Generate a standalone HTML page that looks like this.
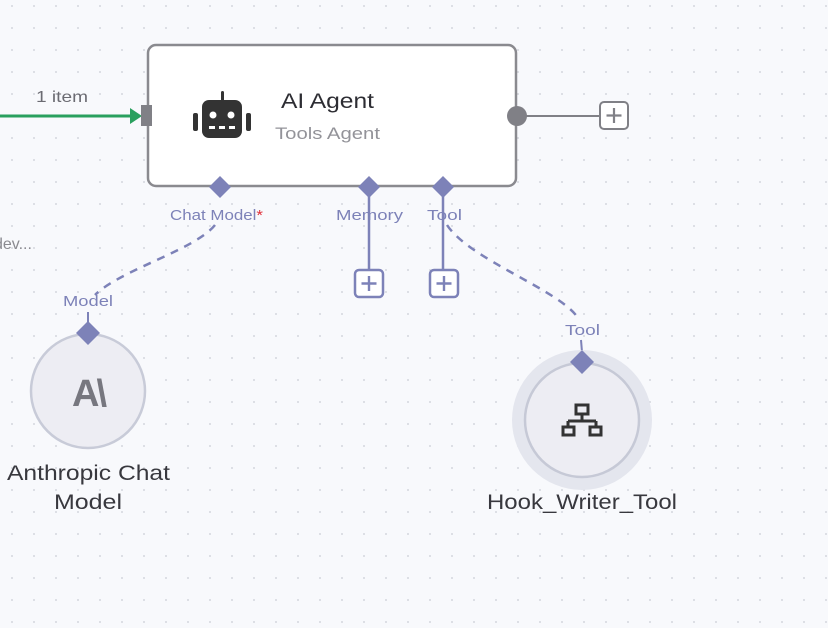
<!DOCTYPE html>
<html><head><style>
html,body{margin:0;padding:0;background:#f8f9fc;}
svg{display:block;font-family:"Liberation Sans",sans-serif;}
</style></head><body>
<svg width="828" height="628" viewBox="0 0 828 628" xmlns="http://www.w3.org/2000/svg">
<defs>
<pattern id="dots" x="0" y="0" width="22" height="22" patternUnits="userSpaceOnUse">
<circle cx="12" cy="6" r="0.9" fill="#c9ccd4"/>
</pattern>
</defs>
<rect width="828" height="628" fill="#f8f9fc"/>
<rect width="828" height="628" fill="url(#dots)"/>

<!-- input connection -->
<line x1="0" y1="116" x2="132" y2="116" stroke="#2aa05e" stroke-width="3"/>
<polygon points="130,108 142,116 130,124" fill="#2aa05e"/>
<text x="36" y="102" font-size="16" fill="#6b6b72" textLength="52" lengthAdjust="spacingAndGlyphs">1 item</text>
<text x="-6" y="249" font-size="16" fill="#8a8a90">dev...</text>

<!-- main node -->
<rect x="148" y="45" width="368" height="141" rx="8" fill="#fff" stroke="#8a8a8f" stroke-width="2.5"/>
<rect x="141" y="105" width="11" height="21" fill="#808086"/>
<!-- robot -->
<rect x="221" y="91" width="3" height="10" rx="1.5" fill="#333"/>
<rect x="202" y="100" width="40" height="38" rx="7" fill="#333"/>
<rect x="193" y="113" width="5" height="18" rx="2" fill="#333"/>
<rect x="246" y="113" width="5" height="18" rx="2" fill="#333"/>
<circle cx="213" cy="115" r="3.5" fill="#fff"/>
<circle cx="231" cy="115" r="3.5" fill="#fff"/>
<rect x="209" y="126" width="6" height="3" fill="#fff"/>
<rect x="219" y="126" width="6" height="3" fill="#fff"/>
<rect x="229" y="126" width="6" height="3" fill="#fff"/>
<text x="281" y="108" font-size="21" fill="#2d2d33" textLength="93" lengthAdjust="spacingAndGlyphs">AI Agent</text>
<text x="275" y="139" font-size="17" fill="#939399" textLength="105" lengthAdjust="spacingAndGlyphs">Tools Agent</text>

<!-- output -->
<line x1="517" y1="116" x2="599" y2="116" stroke="#808086" stroke-width="2"/>
<circle cx="517" cy="116" r="10" fill="#808086"/>
<rect x="600" y="102" width="28" height="27" rx="4" fill="#fff" stroke="#808086" stroke-width="2"/>
<path d="M614 108v15M606.5 115.5h15" stroke="#808086" stroke-width="2.2"/>

<!-- dashed connectors -->
<path d="M215 225 C195 250,120 270,95 295" fill="none" stroke="#7d82b8" stroke-width="2.5" stroke-dasharray="8,7"/>
<path d="M88 312 L88 322" stroke="#7d82b8" stroke-width="2"/>
<path d="M447 225 C470 260,560 290,578 318" fill="none" stroke="#7d82b8" stroke-width="2.5" stroke-dasharray="8,7"/>
<path d="M581 340 L582 352" stroke="#7d82b8" stroke-width="2"/>

<!-- memory/tool lines -->
<line x1="369" y1="190" x2="369" y2="270" stroke="#7d82b8" stroke-width="2.5"/>
<line x1="443" y1="190" x2="443" y2="270" stroke="#7d82b8" stroke-width="2.5"/>
<rect x="355" y="270" width="28" height="27" rx="4" fill="#fff" stroke="#7d82b8" stroke-width="2.5"/>
<path d="M369 276v15M361.5 283.5h15" stroke="#7d82b8" stroke-width="2.4"/>
<rect x="430" y="270" width="28" height="27" rx="4" fill="#fff" stroke="#7d82b8" stroke-width="2.5"/>
<path d="M444 276v15M436.5 283.5h15" stroke="#7d82b8" stroke-width="2.4"/>

<!-- diamonds -->
<g fill="#7d82b8">
<polygon points="220,176 231,187 220,198 209,187"/>
<polygon points="369,176 380,187 369,198 358,187"/>
<polygon points="443,176 454,187 443,198 432,187"/>
</g>
<text x="170" y="220" font-size="15" fill="#7d82b8" textLength="93" lengthAdjust="spacingAndGlyphs">Chat Model<tspan fill="#e0303a">*</tspan></text>
<text x="336" y="220" font-size="15" fill="#7d82b8" textLength="67" lengthAdjust="spacingAndGlyphs">Memory</text>
<text x="427" y="220" font-size="15" fill="#7d82b8" textLength="35" lengthAdjust="spacingAndGlyphs">Tool</text>

<!-- Anthropic node -->
<circle cx="88" cy="391" r="57" fill="#ededf3" stroke="#c8cbd8" stroke-width="2.5"/>
<text x="88" y="406" font-size="38" font-weight="bold" fill="#77777f" text-anchor="middle" letter-spacing="-3">A\</text>
<polygon points="88,321 100,333 88,345 76,333" fill="#7d82b8"/>
<text x="63" y="306" font-size="15" fill="#7d82b8" textLength="50" lengthAdjust="spacingAndGlyphs">Model</text>
<text x="7" y="480" font-size="21" fill="#38383e" textLength="163" lengthAdjust="spacingAndGlyphs">Anthropic Chat</text>
<text x="54" y="509" font-size="21" fill="#38383e" textLength="68" lengthAdjust="spacingAndGlyphs">Model</text>

<!-- Tool node -->
<circle cx="582" cy="420" r="70" fill="#e4e6ee"/>
<circle cx="582" cy="420" r="57" fill="#ededf3" stroke="#c6c9d6" stroke-width="2.5"/>
<polygon points="582,350 594,362 582,374 570,362" fill="#7d82b8"/>
<text x="565" y="335" font-size="15" fill="#7d82b8" textLength="35" lengthAdjust="spacingAndGlyphs">Tool</text>
<g fill="none" stroke="#333" stroke-width="3">
<rect x="576" y="405" width="12" height="9"/>
<path d="M582 414v7M568 421h28M568 421v5M596 421v5"/>
<rect x="563" y="427" width="11" height="8"/>
<rect x="590" y="427" width="11" height="8"/>
</g>
<text x="487" y="509" font-size="21" fill="#38383e" textLength="190" lengthAdjust="spacingAndGlyphs">Hook_Writer_Tool</text>
</svg>
</body></html>
